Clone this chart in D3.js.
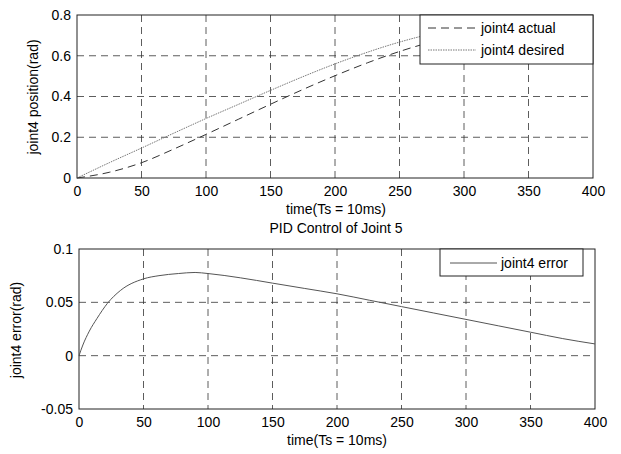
<!DOCTYPE html>
<html>
<head>
<meta charset="utf-8">
<script src="https://cdn.jsdelivr.net/npm/d3@7"></script>
<style>
  body { margin: 0; background: #fff; }
  text { font-family: "Liberation Sans", Arial, sans-serif; fill: #000; }
</style>
</head>
<body>
<div class="chart"></div>
<script>
// position plot (top)
var posTime = [0, 25, 50, 75, 100, 125, 150, 175, 200, 225, 250, 275, 300, 325, 350, 375, 400];
var actual = [0, 0.028, 0.075, 0.142, 0.214, 0.288, 0.362, 0.434, 0.502, 0.565, 0.621, 0.668, 0.706, 0.735, 0.756, 0.770, 0.779];
var desired = [0, 0.075, 0.147, 0.220, 0.292, 0.361, 0.430, 0.497, 0.560, 0.617, 0.667, 0.708, 0.740, 0.763, 0.778, 0.786, 0.790];

// error plot (bottom)
var errTime = [0, 3, 8, 14, 22, 32, 50, 62, 77, 90, 100, 125, 150, 175, 200, 225, 250, 275, 300, 325, 350, 375, 400];
var errVals = [0, 0.010, 0.023, 0.035, 0.049, 0.061, 0.072, 0.075, 0.077, 0.078, 0.077, 0.073, 0.068, 0.063, 0.058, 0.052, 0.046, 0.040, 0.034, 0.028, 0.022, 0.016, 0.011];

var xTicks = [0, 50, 100, 150, 200, 250, 300, 350, 400];
var posTicks = [0, 0.2, 0.4, 0.6, 0.8];
var errTicks = [-0.05, 0, 0.05, 0.1];

var W = 621, H = 454;
var svg = d3.select(".chart").append("svg")
  .attr("width", W).attr("height", H);

function panel(top, bottom, left, right, yDomain, yTicks, yFmt) {
  var x = d3.scaleLinear().domain([0, 400]).range([left, right]);
  var y = d3.scaleLinear().domain(yDomain).range([bottom, top]);
  var g = svg.append("g");

  // grid
  g.selectAll(".vg").data(xTicks.slice(1, -1)).enter().append("line")
    .attr("x1", d => x(d)).attr("x2", d => x(d))
    .attr("y1", top).attr("y2", bottom)
    .attr("stroke", "#333").attr("stroke-width", 0.8).attr("stroke-dasharray", "7,5");
  g.selectAll(".hg").data(yTicks.slice(1, -1)).enter().append("line")
    .attr("x1", left).attr("x2", right)
    .attr("y1", d => y(d)).attr("y2", d => y(d))
    .attr("stroke", "#333").attr("stroke-width", 0.8).attr("stroke-dasharray", "7,5");

  // axes
  g.append("g").attr("transform", `translate(0,${bottom})`)
    .call(d3.axisBottom(x).tickValues(xTicks).tickSize(0).tickPadding(8).tickFormat(d3.format("d")))
    .call(a => a.select(".domain").remove())
    .selectAll("text").style("font-size", "14px");
  g.append("g").attr("transform", `translate(${left},0)`)
    .call(d3.axisLeft(y).tickValues(yTicks).tickSize(0).tickPadding(6).tickFormat(yFmt))
    .call(a => a.select(".domain").remove())
    .selectAll("text").style("font-size", "14px");

  g.append("rect").attr("x", left).attr("y", top)
    .attr("width", right - left).attr("height", bottom - top)
    .attr("fill", "none").attr("stroke", "#222").attr("stroke-width", 1);

  return { x: x, y: y, g: g };
}

// top panel
var p1 = panel(15, 178, 77, 593, [0, 0.8], posTicks, d => d === 0 ? "0" : d3.format(".1f")(d));
var line1 = d3.line().x((d, i) => p1.x(posTime[i])).y(d => p1.y(d)).curve(d3.curveMonotoneX);
p1.g.append("path").datum(desired).attr("d", line1)
  .attr("fill", "none").attr("stroke", "#777").attr("stroke-width", 1).attr("stroke-dasharray", "1.5,1");
p1.g.append("path").datum(actual).attr("d", line1)
  .attr("fill", "none").attr("stroke", "#333").attr("stroke-width", 1).attr("stroke-dasharray", "8,5");

// legend top
var lg1 = p1.g.append("g");
lg1.append("rect").attr("x", 420).attr("y", 15).attr("width", 173).attr("height", 49)
  .attr("fill", "#fff").attr("stroke", "#222").attr("stroke-width", 1);
lg1.append("line").attr("x1", 428).attr("x2", 476).attr("y1", 28).attr("y2", 28)
  .attr("stroke", "#333").attr("stroke-dasharray", "8,5");
lg1.append("line").attr("x1", 428).attr("x2", 476).attr("y1", 50).attr("y2", 50)
  .attr("stroke", "#777").attr("stroke-dasharray", "1.5,1");
lg1.append("text").attr("x", 481).attr("y", 33).style("font-size", "14px").text("joint4 actual");
lg1.append("text").attr("x", 481).attr("y", 55).style("font-size", "14px").text("joint4 desired");

svg.append("text").attr("x", 336).attr("y", 214).attr("text-anchor", "middle")
  .style("font-size", "14px").text("time(Ts = 10ms)");
svg.append("text").attr("transform", "translate(38,97) rotate(-90)").attr("text-anchor", "middle")
  .style("font-size", "14px").text("joint4 position(rad)");

svg.append("text").attr("x", 336).attr("y", 233).attr("text-anchor", "middle")
  .style("font-size", "14px").text("PID Control of Joint 5");

// bottom panel
var p2 = panel(249, 409, 79, 595, [-0.05, 0.1], errTicks, d => d === 0 ? "0" : String(d));
var line2 = d3.line().x((d, i) => p2.x(errTime[i])).y(d => p2.y(d)).curve(d3.curveMonotoneX);
p2.g.append("path").datum(errVals).attr("d", line2)
  .attr("fill", "none").attr("stroke", "#555").attr("stroke-width", 1);

var lg2 = p2.g.append("g");
lg2.append("rect").attr("x", 440).attr("y", 249).attr("width", 143).attr("height", 27)
  .attr("fill", "#fff").attr("stroke", "#222").attr("stroke-width", 1);
lg2.append("line").attr("x1", 450).attr("x2", 497).attr("y1", 263).attr("y2", 263)
  .attr("stroke", "#555");
lg2.append("text").attr("x", 501).attr("y", 268).style("font-size", "14px").text("joint4 error");

svg.append("text").attr("x", 337).attr("y", 445).attr("text-anchor", "middle")
  .style("font-size", "14px").text("time(Ts = 10ms)");
svg.append("text").attr("transform", "translate(21,330) rotate(-90)").attr("text-anchor", "middle")
  .style("font-size", "14px").text("joint4 error(rad)");
</script>
</body>
</html>
